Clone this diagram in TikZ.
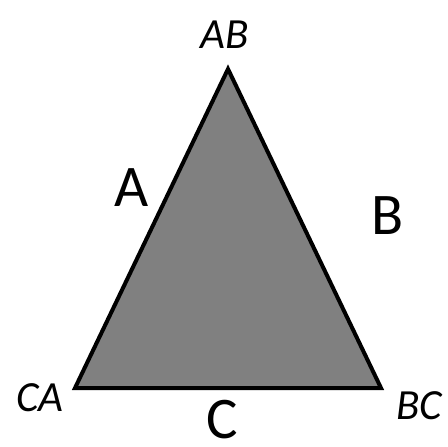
\documentclass[tikz,border=0pt]{standalone}
\usepackage{fontspec}
\setmainfont{Carlito}

\begin{document}
\begin{tikzpicture}[x=1pt,y=-1pt,
  corner/.style={inner sep=0pt,font=\fontsize{43}{43}\selectfont\itshape},
  side/.style={inner sep=0pt,font=\fontsize{59}{59}\selectfont}]

\useasboundingbox (0,0) rectangle (448,447);

\begin{scope}[shift={(0,0)}]
        \coordinate (AB) at (228,69);
        \coordinate (BC) at (381,388);
        \coordinate (CA) at (75,388);

        \fill[gray] (AB) -- (BC) -- (CA) -- cycle;
        \draw[line width=4pt] (AB) -- (BC) -- (CA) -- cycle;

        % Wierzchołki
        \node[corner] (labAB) at (225,35) {AB};
        \node[corner] (labBC) at (419,406) {BC};
        \node[corner] (labCA) at (40,398) {CA};

        % Boki
        \node[side] (labA) at (132,188) {A};
        \node[side] (labB) at (388,216) {B};
        \node[side] (labC) at (222,420) {C};
\end{scope}

\end{tikzpicture}
\end{document}
